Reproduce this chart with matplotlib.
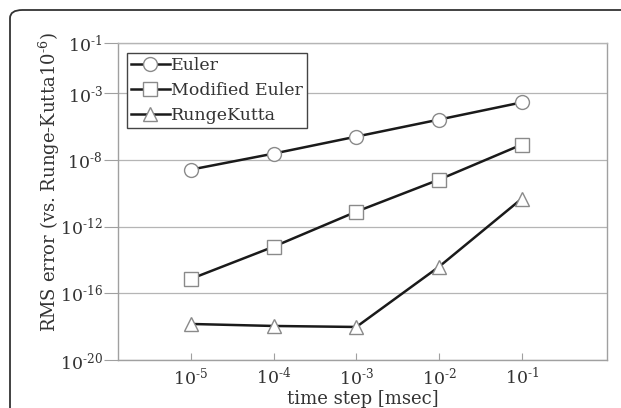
import matplotlib
matplotlib.use("Agg")
import matplotlib.pyplot as plt
from matplotlib.patches import FancyBboxPatch

# ---- data ----
time_steps = [1e-5, 1e-4, 1e-3, 1e-2, 1e-1]
euler = [10**-8.59, 10**-7.63, 10**-6.61, 10**-5.59, 10**-4.56]
modified_euler = [10**-15.14, 10**-13.21, 10**-11.11, 10**-9.19, 10**-7.09]
runge_kutta = [10**-17.84, 10**-17.96, 10**-18.02, 10**-14.41, 10**-10.33]
series_names = ["Euler", "Modified Euler", "RungeKutta"]

xtick_values = [1e-5, 1e-4, 1e-3, 1e-2, 1e-1]
xtick_exps = ["5", "4", "3", "2", "1"]
ytick_values = [1e-20, 1e-16, 1e-12, 1e-8, 1e-4, 1e-1]
ytick_exps = ["20", "16", "12", "8", "3", "1"]

plt.rcParams['font.family'] = ['DejaVu Serif']
plt.rcParams['mathtext.fontset'] = 'dejavuserif'

txt = '#333333'
grey = '#a0a0a0'


def pow_label(e):
    return '$\\mathregular{10^{\u2010' + e + '}}$'


fig = plt.figure(figsize=(6.21, 4.08), dpi=100)
ax = fig.add_axes([118/621, 48/408, (607-118)/621, (360-43)/408])

# outer rounded frame (cut off at right/bottom)
frame = FancyBboxPatch((10/621, -0.2), 1.2, (398/408) + 0.2,
                       boxstyle="round,pad=0,rounding_size=0.02",
                       transform=fig.transFigure, fill=False,
                       edgecolor='#333333', linewidth=1.3, clip_on=False)
fig.patches.append(frame)

mk = dict(markersize=10, markerfacecolor='white', markeredgecolor='#8a8a8a',
          markeredgewidth=1.0, color='#1a1a1a', linewidth=1.8)
ax.plot(time_steps, euler, marker='o', label=series_names[0], **mk)
ax.plot(time_steps, modified_euler, marker='s', label=series_names[1], **mk)
ax.plot(time_steps, runge_kutta, marker='^', label=series_names[2], **mk)

ax.set_xscale('log')
ax.set_yscale('log')
ax.set_xlim(10**-5.88, 10**0.03)
ax.set_ylim(1e-20, 1e-1)

ax.set_xticks(xtick_values)
ax.set_xticklabels([pow_label(e) for e in xtick_exps])
ax.set_yticks(ytick_values)
ax.set_yticklabels([pow_label(e) for e in ytick_exps])
ax.minorticks_off()
ax.tick_params(axis='x', direction='in', length=5, width=0.8, color=grey,
               labelsize=12.5, labelcolor=txt, pad=5)
ax.tick_params(axis='y', direction='out', length=10, width=0.8, color=grey,
               labelsize=12.5, labelcolor=txt, pad=1)

ax.grid(axis='y', color='#b5b5b5', linewidth=0.9)
ax.set_axisbelow(True)
for s in ax.spines.values():
    s.set_color(grey)
    s.set_linewidth(1.0)
ax.spines['top'].set_color('#b5b5b5')

ax.set_xlabel('time step [msec]', fontsize=13, color=txt, labelpad=1)
ax.set_ylabel('RMS error (vs. Runge-Kutta10$^{\u2010' + '6}$)', fontsize=13, color=txt)
ax.yaxis.set_label_coords(-0.115, 0.56)

leg = ax.legend(loc='upper left', bbox_to_anchor=(9/489, 1 - 10/317),
                fontsize=12.5, frameon=True, fancybox=False, framealpha=1,
                edgecolor='#444444', borderpad=0.25, labelspacing=0.45,
                handlelength=2.2, handletextpad=0.1, borderaxespad=0,
                labelcolor=txt)
leg.get_frame().set_linewidth(1.0)

fig.savefig('out.png', dpi=100)
